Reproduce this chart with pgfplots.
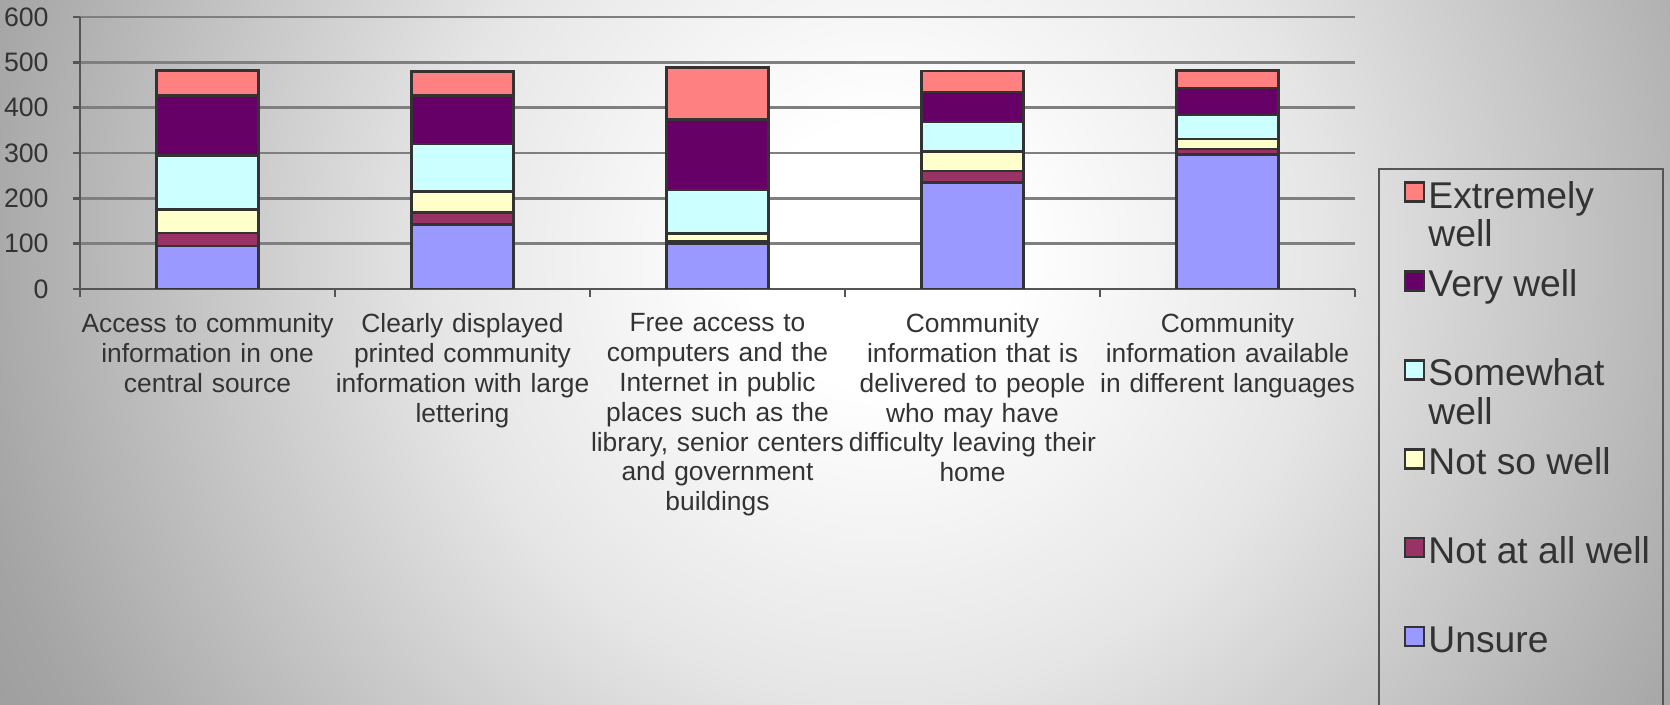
\documentclass[border=0pt]{standalone}
\usepackage{fontspec}
\setmainfont{Liberation Sans}
\usepackage{pgfplots}
\pgfplotsset{compat=1.18}
\definecolor{cUnsure}{HTML}{9999FF}
\definecolor{cNAW}{HTML}{993366}
\definecolor{cNSW}{HTML}{FFFFCC}
\definecolor{cSome}{HTML}{CCFFFF}
\definecolor{cVery}{HTML}{660066}
\definecolor{cExt}{HTML}{FF8080}
\definecolor{outl}{HTML}{333333}
\definecolor{txt}{HTML}{333333}
\definecolor{gridc}{HTML}{7F7F7F}
\definecolor{axisc}{HTML}{555555}
\definecolor{bgmid}{HTML}{E6E6E6}
\definecolor{bgedge}{HTML}{A4A4A4}
\definecolor{bgfar}{HTML}{969696}
\pgfdeclareradialshading{bgshade}{\pgfpoint{0bp}{0bp}}{color(0bp)=(white); color(3bp)=(white); color(10bp)=(bgmid); color(21bp)=(bgedge); color(25bp)=(bgfar); color(50bp)=(bgfar)}
\begin{document}
\begin{tikzpicture}[x=1cm,y=1cm]
\useasboundingbox (0,0) rectangle (16.7,7.05);
\begin{scope}
\clip (0,0) rectangle (16.7,7.05);
\fill[bgfar] (0,0) rectangle (16.7,7.05);
\shade[shading=bgshade] (-2.2,-6.5) rectangle (19.8,15.5);
\end{scope}
\begin{axis}[
  at={(0.80cm,4.16cm)}, anchor=south west,
  scale only axis, width=12.75cm, height=2.72cm,
  ybar stacked, bar width=0.4,
  xmin=-0.5, xmax=4.5, ymin=0, ymax=600,
  ytick={0,100,...,600},
  xtick={0,1,2,3,4},
  xticklabels={
    {Access to community\\information in one\\central source},
    {Clearly displayed\\printed community\\information with large\\lettering},
    {Free access to\\computers and the\\Internet in public\\places such as the\\library, senior centers\\and government\\buildings},
    {Community\\information that is\\delivered to people\\who may have\\difficulty leaving their\\home},
    {Community\\information available\\in different languages}},
  minor xtick={-0.5,0.5,...,4.5},
  axis x line*=bottom, axis y line*=left,
  tick align=outside,
  major tick length=0.07cm, minor tick length=0.08cm,
  major x tick style={draw=none},
  every tick/.style={color=axisc, line width=0.7pt},
  ymajorgrids, grid style={color=gridc, line width=0.7pt},
  axis line style={color=axisc, line width=0.7pt},
  /pgf/number format/assume math mode=true,
  yticklabel style={font=\fontsize{7.6}{9}\selectfont, text=txt, xshift=-0.12cm},
  xticklabel style={font=\fontsize{7.5}{8.5}\selectfont, text=txt, text width=2.6cm, align=center, anchor=north, yshift=-0.05cm},
  every axis plot post/.append style={legend image code/.code={\draw[##1] (0cm,4.25pt) rectangle (0.19cm,4.25pt+0.19cm); \path (-0.19cm,4.25pt) (0.22cm,4.25pt);}},
  reverse legend,
  legend style={at={(1.018,0.445)}, anchor=north west, draw=axisc, fill=none, line width=0.6pt,
    inner xsep=0.06cm, inner ysep=0.12cm, row sep=5.1pt,
    nodes={inner sep=0pt, text=txt, font=\fontsize{10.6}{11}\selectfont, align=left},
    cells={anchor=west}},
]
\addplot[fill=cUnsure, draw=outl, line width=0.7pt] coordinates {(0,95) (1,142) (2,100) (3,235) (4,297)};
\addlegendentry{\strut Unsure\\\strut}
\addplot[fill=cNAW, draw=outl, line width=0.7pt] coordinates {(0,28) (1,27) (2,6) (3,25) (4,12)};
\addlegendentry{\strut Not at all well\rule{0.07cm}{0pt}\\\strut}
\addplot[fill=cNSW, draw=outl, line width=0.7pt] coordinates {(0,52) (1,46) (2,16) (3,43) (4,22)};
\addlegendentry{\strut Not so well\\\strut}
\addplot[fill=cSome, draw=outl, line width=0.7pt] coordinates {(0,119) (1,105) (2,96) (3,65) (4,53)};
\addlegendentry{\strut Somewhat\\\strut well}
\addplot[fill=cVery, draw=outl, line width=0.7pt] coordinates {(0,133) (1,107) (2,156) (3,67) (4,59)};
\addlegendentry{\strut Very well\\\strut}
\addplot[fill=cExt, draw=outl, line width=0.7pt] coordinates {(0,55) (1,53) (2,115) (3,46) (4,39)};
\addlegendentry{\strut Extremely\\\strut well}
\end{axis}
\end{tikzpicture}
\end{document}
